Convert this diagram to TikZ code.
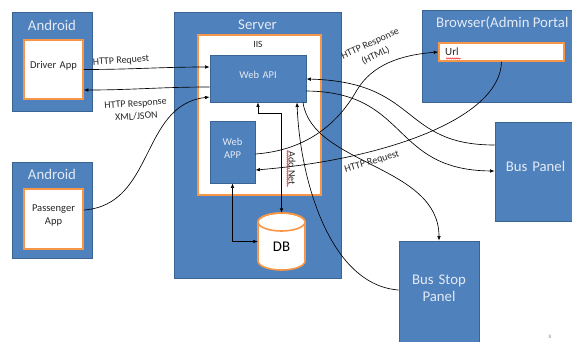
\documentclass[tikz,border=0pt]{standalone}
\usepackage{fontspec}
\setmainfont{Carlito}
\usetikzlibrary{fit,arrows.meta,decorations.pathmorphing}
\definecolor{boxblue}{HTML}{4F81BD}
\definecolor{boxline}{HTML}{3A6592}
\definecolor{orng}{HTML}{F79646}
\definecolor{ttl}{HTML}{E4EAF4}
\definecolor{darktxt}{HTML}{262626}
\begin{document}
\begin{tikzpicture}[x=1pt,y=-1pt,
  bluebox/.style={fill=boxblue,draw=boxline,line width=0.9pt,inner sep=0pt},
  whitebox/.style={fill=white,draw=orng,line width=1.6pt,inner sep=0pt},
  ttlfont/.style={font=\fontsize{14.8}{17}\selectfont,text=ttl,align=center},
  innerfont/.style={font=\fontsize{10.5}{13}\selectfont,text=darktxt,align=center},
  inblue/.style={font=\fontsize{10.5}{13}\selectfont,text=ttl,align=center},
  lbl/.style={font=\fontsize{10}{13}\selectfont,text=darktxt,align=center,inner sep=0pt},
  conn/.style={draw=black,line width=0.65pt,-{Latex[length=4.5pt,width=3.6pt]}},
  dconn/.style={draw=black,line width=0.65pt,{Latex[length=4.5pt,width=3.6pt]}-{Latex[length=4.5pt,width=3.6pt]}},
  squig/.style={draw=red,line width=0.45pt,decorate,decoration={snake,segment length=2pt,amplitude=0.6pt}}]
\useasboundingbox (0,0) rectangle (572,341);
\clip (0,0) rectangle (572,341);

% Android (driver)
\node[bluebox, fit={(12,12) (92,111)}] (android1) {};
\node[ttlfont] (android1t) at (52,25) {Android};
\node[whitebox, fit={(24,40) (83,99)}, innerfont] (driver) {Driver App};

% Android (passenger)
\node[bluebox, fit={(12,162) (92,258)}] (android2) {};
\node[ttlfont] (android2t) at (52,174) {Android};
\node[whitebox, fit={(24,189) (83,249)}, innerfont] (passenger) {Passenger\\App};

% Server
\node[bluebox, fit={(174,12) (341,278)}] (server) {};
\node[ttlfont] (servert) at (257.5,25) {Server};
\node[whitebox, fit={(198,35) (321,195)}] (iis) {};
\node[font=\fontsize{9.5}{11}\selectfont, text=darktxt] (iist) at (258,44) {IIS};
\node[bluebox, fit={(210,55) (306,102)}, inblue] (webapi) {Web API};
\node[bluebox, fit={(210,121) (255,183)}, inblue] (webapp) {Web\\APP};

% DB cylinder
\node[inner sep=0pt, minimum width=47pt, minimum height=57pt] (db) at (281.5,241.5) {};
\draw[fill=white, draw=orng, line width=1.6pt]
  (258,222) -- (258,261) arc[start angle=180, end angle=360, x radius=23.5pt, y radius=9pt]
  -- (305,222) arc[start angle=0, end angle=180, x radius=23.5pt, y radius=9pt] -- cycle;
\draw[draw=orng, line width=1.6pt] (281.5,222) ellipse[x radius=23.5pt, y radius=9pt];
\node[font=\fontsize{14.8}{17}\selectfont, text=black] (dbt) at (281.5,247) {DB};

% Browser
\node[bluebox, fit={(422,10) (576,102)}] (browser) {};
\node[ttlfont, anchor=west, inner sep=0pt] (browsert) at (436,23) {Browser(Admin Portal};
\node[whitebox, fit={(439,43) (564,61)}] (url) {};
\node[font=\fontsize{11}{12}\selectfont, text=darktxt, anchor=west, inner sep=0pt] (urlt) at (445,52) {Url};

% Panels
\node[bluebox, fit={(495,122) (576,221)}, ttlfont] (buspanel) {Bus Panel};
\node[bluebox, fit={(399,241) (479,345)}, ttlfont] (busstop) {Bus Stop\\Panel};

% Connectors
\draw[conn] (driver.east) to[out=0,in=180] (webapi.west |- 0,67);
\draw[conn] (webapi.west |- 0,87) to[out=180,in=0] (driver.east |- 0,90);
\draw[conn] (passenger.east |- 0,210) .. controls (155,205) and (140,105) .. (webapi.west |- 0,97);
\draw[dconn] (webapi.south) -- ++(0,11) -| (db.north);
\draw[dconn] (webapp.south) |- (db.west);
\draw[conn] (webapp.east |- 0,154) .. controls (310,150) and (340,120) .. (357,90)
  .. controls (372,65) and (400,55) .. (url.west);
\draw[conn] (url.south) .. controls (500,120) and (380,160) .. (webapp.east |- 0,170);
\draw[conn] (webapi.south -| 303,0) .. controls (312,165) and (439,165) .. (busstop.north);
\draw[conn] (busstop.west |- 0,290) .. controls (330,285) and (300,180) .. (webapi.south -| 297,0);
\draw[conn] (buspanel.west |- 0,145) .. controls (400,145) and (420,82) .. (webapi.east |- 0,79);
\draw[conn] (webapi.east |- 0,91) .. controls (410,92) and (390,170) .. (buspanel.west |- 0,171);

% Labels
\node[lbl, rotate=4] (lreq1) at (121,61) {HTTP Request};
\node[lbl, rotate=4] (lresp1) at (136,110) {HTTP Response\\XML/JSON};
\node[lbl, rotate=25] (lresp2) at (373,50) {HTTP Response\\(HTML)};
\node[lbl, rotate=17] (lreq2) at (372,162) {HTTP Request};
\node[lbl, rotate=-90] (lado) at (292,168) {Ado.Net};
\draw[squig] (287.5,150) -- (287.5,187);
\draw[squig] (446,58.5) -- (461,58.5);
\node[font=\fontsize{5}{6}\selectfont, text=gray] (pg) at (550,337) {8};
\end{tikzpicture}
\end{document}
